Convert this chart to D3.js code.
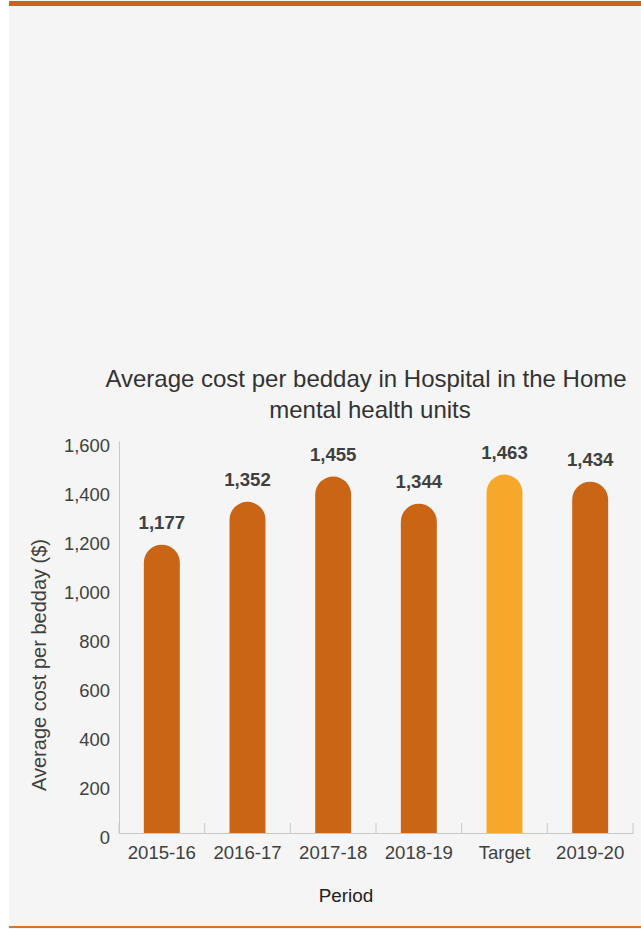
<!DOCTYPE html>
<html><head><meta charset="utf-8">
<script src="https://cdn.jsdelivr.net/npm/d3@7"></script>
<style>
html,body{margin:0;padding:0;background:#fff;}
svg{display:block;font-family:"Liberation Sans",Arial,sans-serif;}
</style></head>
<body>
<script>
const categories = ["2015-16","2016-17","2017-18","2018-19","Target","2019-20"];
const values = [1177,1352,1455,1344,1463,1434];
const yTicks = [0,200,400,600,800,1000,1200,1400,1600];
const titleLines = ["Average cost per bedday in Hospital in the Home","mental health units"];

const W=641,H=929;
const svg=d3.select("body").append("svg").attr("width",W).attr("height",H);
svg.append("rect").attr("x",9).attr("y",0).attr("width",W-9).attr("height",H).attr("fill","#f5f5f5");
svg.append("rect").attr("x",9).attr("y",1).attr("width",W-9).attr("height",5).attr("fill","#c8651b");
svg.append("rect").attr("x",9).attr("y",926).attr("width",W-9).attr("height",2).attr("fill","#d2762a");

const x=d3.scaleBand().domain(categories).range([119,633]).paddingInner(0.58).paddingOuter(0.29);
const y=d3.scaleLinear().domain([0,1600]).range([833,441]);

// y axis
const ya=svg.append("g").attr("transform","translate(119,0)")
  .call(d3.axisLeft(y).tickValues(yTicks).tickSize(0).tickPadding(9).tickFormat(d3.format(",")));
ya.select(".domain").attr("stroke","#c8c8c8");
ya.selectAll("text").attr("font-size",18.4).attr("fill","#404040").attr("dy","0.58em")
  .attr("font-family","Liberation Sans, Arial, sans-serif");

// x axis
const xa=svg.append("g").attr("transform","translate(0,833)")
  .call(d3.axisBottom(x).tickSize(0).tickPadding(13));
xa.select(".domain").attr("stroke","#c8c8c8");
xa.selectAll("text").attr("font-size",18.6).attr("fill","#404040")
  .attr("font-family","Liberation Sans, Arial, sans-serif");
// band boundary ticks
const bounds=d3.range(categories.length+1).map(i=>119+i*(514/categories.length));
svg.append("g").selectAll("line").data(bounds).join("line")
  .attr("x1",d=>d).attr("x2",d=>d).attr("y1",823).attr("y2",833)
  .attr("stroke","#c8c8c8");

// bars with rounded tops
const bw=x.bandwidth(), r=bw/2;
svg.append("g").selectAll("path").data(values).join("path")
  .attr("d",(d,i)=>{
    const x0=x(categories[i]), top=y(d), bot=y(0);
    return `M${x0},${bot}L${x0},${top+r}A${r},${r} 0 0 1 ${x0+bw},${top+r}L${x0+bw},${bot}Z`;
  })
  .attr("fill",(d,i)=>categories[i]==="Target"?"#f6a82b":"#c96514");

// value labels
svg.append("g").selectAll("text").data(values).join("text")
  .attr("x",(d,i)=>x(categories[i])+bw/2).attr("y",d=>y(d)-16)
  .attr("text-anchor","middle").attr("font-size",18.6).attr("font-weight","bold")
  .attr("fill","#404040").text(d=>d3.format(",")(d));

// title
svg.append("text").attr("x",366).attr("y",387).attr("text-anchor","middle")
  .attr("font-size",24).attr("fill","#333").text(titleLines[0]);
svg.append("text").attr("x",370).attr("y",418).attr("text-anchor","middle")
  .attr("font-size",24).attr("fill","#333").text(titleLines[1]);

// axis titles
svg.append("text").attr("transform","translate(46,665) rotate(-90)").attr("text-anchor","middle")
  .attr("font-size",20).attr("fill","#404040").text("Average cost per bedday ($)");
svg.append("text").attr("x",346).attr("y",902).attr("text-anchor","middle")
  .attr("font-size",18.9).attr("fill","#222").text("Period");
</script>
</body></html>
